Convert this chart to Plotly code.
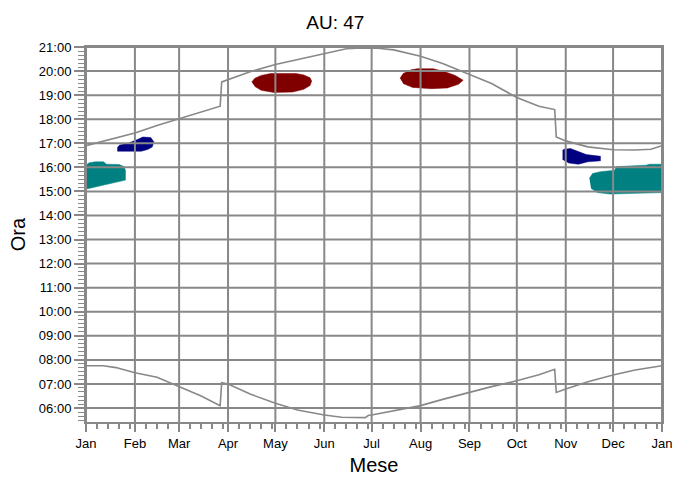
import datetime as dt

import plotly.graph_objects as go

# -----------------------------------------------------
# DATA
# -----------------------------------------------------

MONTH_LABELS = ["Jan", "Feb", "Mar", "Apr", "May", "Jun",
                "Jul", "Aug", "Sep", "Oct", "Nov", "Dec", "Jan"]

MONTH_STARTS = ["2023-01-01", "2023-02-01", "2023-03-01", "2023-04-01",
                "2023-05-01", "2023-06-01", "2023-07-01", "2023-08-01",
                "2023-09-01", "2023-10-01", "2023-11-01", "2023-12-01",
                "2024-01-01"]

MINOR_DAYS = [8, 15, 22, 29]

HOUR_TICKS = list(range(6, 22))
HOUR_LABELS = ["%02d:00" % h for h in HOUR_TICKS]

# sunset (upper curve)
SUNSET_DATES = ["2023-01-01", "2023-01-15", "2023-02-01", "2023-02-15",
                "2023-03-01", "2023-03-15", "2023-03-27", "2023-03-28",
                "2023-04-01", "2023-04-15", "2023-05-01", "2023-05-15",
                "2023-06-01", "2023-06-15", "2023-06-25", "2023-07-05",
                "2023-07-15", "2023-08-01", "2023-08-15", "2023-09-01",
                "2023-09-15", "2023-10-01", "2023-10-15", "2023-10-25",
                "2023-10-26", "2023-11-01", "2023-11-15", "2023-12-01",
                "2023-12-15", "2023-12-25", "2024-01-01"]
SUNSET_HOURS = [16.90, 17.15, 17.43, 17.74,
                18.03, 18.29, 18.54, 19.55,
                19.65, 19.97, 20.27, 20.48,
                20.73, 20.93, 20.96, 20.95,
                20.88, 20.62, 20.31, 19.87,
                19.48, 18.90, 18.54, 18.40,
                17.26, 17.10, 16.85, 16.73,
                16.72, 16.75, 16.90]

# sunrise (lower curve)
SUNRISE_DATES = ["2023-01-01", "2023-01-12", "2023-01-20", "2023-02-01",
                 "2023-02-15", "2023-03-01", "2023-03-15", "2023-03-27",
                 "2023-03-28", "2023-04-01", "2023-04-15", "2023-05-01",
                 "2023-05-15", "2023-06-01", "2023-06-12", "2023-06-27",
                 "2023-06-29", "2023-07-01", "2023-07-15", "2023-08-01",
                 "2023-08-15", "2023-09-01", "2023-09-15", "2023-10-01",
                 "2023-10-15", "2023-10-25", "2023-10-26", "2023-11-01",
                 "2023-11-15", "2023-12-01", "2023-12-15", "2024-01-01"]
SUNRISE_HOURS = [7.76, 7.76, 7.68, 7.47,
                 7.28, 6.89, 6.50, 6.10,
                 7.05, 7.00, 6.58, 6.20,
                 5.92, 5.71, 5.62, 5.60,
                 5.70, 5.71, 5.89, 6.10,
                 6.36, 6.65, 6.89, 7.13,
                 7.38, 7.61, 6.65, 6.79,
                 7.09, 7.37, 7.58, 7.76]

# glare patches (outlines)
TEAL_JAN_DATES = ["2023-01-01", "2023-01-03", "2023-01-07", "2023-01-12",
                  "2023-01-14", "2023-01-22", "2023-01-25", "2023-01-26",
                  "2023-01-26", "2023-01-19", "2023-01-10", "2023-01-02",
                  "2023-01-01"]
TEAL_JAN_HOURS = [16.09, 16.19, 16.23, 16.23,
                  16.13, 16.12, 16.03, 15.88,
                  15.47, 15.36, 15.24, 15.11,
                  15.13]

NAVY_FEB_DATES = ["2023-01-21", "2023-01-21", "2023-02-05", "2023-02-09",
                  "2023-02-12", "2023-02-13", "2023-02-11", "2023-02-06",
                  "2023-02-03", "2023-01-31", "2023-01-28", "2023-01-22"]
NAVY_FEB_HOURS = [16.85, 16.67, 16.67, 16.74,
                  16.85, 17.06, 17.24, 17.26,
                  17.17, 17.10, 17.01, 16.92]

RED_MAY_DATES = ["2023-04-16", "2023-04-18", "2023-04-22", "2023-04-28",
                 "2023-05-14", "2023-05-19", "2023-05-23", "2023-05-24",
                 "2023-05-23", "2023-05-19", "2023-05-12", "2023-04-30",
                 "2023-04-22", "2023-04-18"]
RED_MAY_HOURS = [19.55, 19.70, 19.82, 19.90,
                 19.90, 19.84, 19.72, 19.59,
                 19.40, 19.24, 19.13, 19.11,
                 19.20, 19.36]

RED_AUG_DATES = ["2023-07-19", "2023-07-21", "2023-07-26", "2023-07-30",
                 "2023-08-09", "2023-08-16", "2023-08-23", "2023-08-28",
                 "2023-08-25", "2023-08-18", "2023-08-08", "2023-07-27",
                 "2023-07-21"]
RED_AUG_HOURS = [19.70, 19.90, 20.05, 20.10,
                 20.10, 19.98, 19.82, 19.62,
                 19.45, 19.30, 19.27, 19.32,
                 19.48]

NAVY_NOV_DATES = ["2023-10-30", "2023-10-31", "2023-11-04", "2023-11-10",
                  "2023-11-14", "2023-11-23", "2023-11-23", "2023-11-15",
                  "2023-11-09", "2023-11-03", "2023-10-30"]
NAVY_NOV_HOURS = [16.71, 16.75, 16.78, 16.64,
                  16.53, 16.46, 16.27, 16.23,
                  16.13, 16.18, 16.33]

TEAL_DEC_DATES = ["2023-11-16", "2023-11-18", "2023-11-23", "2023-12-02",
                  "2023-12-03", "2023-12-22", "2023-12-24", "2024-01-01",
                  "2024-01-01", "2023-12-12", "2023-11-29", "2023-11-21",
                  "2023-11-17"]
TEAL_DEC_HOURS = [15.55, 15.74, 15.82, 15.88,
                  16.03, 16.09, 16.13, 16.13,
                  14.95, 14.93, 14.89, 14.95,
                  15.13]

# -----------------------------------------------------
# STYLE
# -----------------------------------------------------

GRID = "#888888"
FONT = "Liberation Sans, Arial, sans-serif"

TEAL = "#008080"
NAVY = "#000080"
MAROON = "#800000"

# -----------------------------------------------------
# FIGURE
# -----------------------------------------------------

fig = go.Figure()

patches = [
    (TEAL_JAN_DATES, TEAL_JAN_HOURS, TEAL),
    (NAVY_FEB_DATES, NAVY_FEB_HOURS, NAVY),
    (RED_MAY_DATES, RED_MAY_HOURS, MAROON),
    (RED_AUG_DATES, RED_AUG_HOURS, MAROON),
    (NAVY_NOV_DATES, NAVY_NOV_HOURS, NAVY),
    (TEAL_DEC_DATES, TEAL_DEC_HOURS, TEAL),
]

for xs, ys, col in patches:

    fig.add_trace(
        go.Scatter(
            x=xs,
            y=ys,
            mode="lines",
            fill="toself",
            fillcolor=col,
            line=dict(color=col, width=0.5),
            hoverinfo="skip",
            showlegend=False
        )
    )

for xs, ys in [(SUNSET_DATES, SUNSET_HOURS), (SUNRISE_DATES, SUNRISE_HOURS)]:

    fig.add_trace(
        go.Scatter(
            x=xs,
            y=ys,
            mode="lines",
            line=dict(color=GRID, width=1.6),
            hoverinfo="skip",
            showlegend=False
        )
    )

# grid drawn over the patches
for m in MONTH_STARTS:

    fig.add_shape(
        type="line",
        xref="x", yref="paper",
        x0=m, x1=m, y0=0, y1=1,
        line=dict(color=GRID, width=2),
        layer="above"
    )

for h in HOUR_TICKS:

    fig.add_shape(
        type="line",
        xref="paper", yref="y",
        x0=0, x1=1, y0=h, y1=h,
        line=dict(color=GRID, width=2),
        layer="above"
    )

minor_dates = []
for month in range(1, 13):
    for day in MINOR_DAYS:
        try:
            minor_dates.append(dt.date(2023, month, day).isoformat())
        except ValueError:
            pass

fig.update_layout(

    width=676,
    height=478,

    margin=dict(l=86, r=14, t=47, b=56),

    paper_bgcolor="white",
    plot_bgcolor="white",

    font=dict(family=FONT, size=13, color="black"),

    title=dict(
        text="AU: 47",
        x=0.496,
        xref="container",
        y=0.954,
        yanchor="middle",
        font=dict(size=19, color="black")
    ),

    xaxis=dict(
        type="date",
        range=["2023-01-01", "2024-01-01"],
        automargin=False,
        tickmode="array",
        tickvals=MONTH_STARTS,
        ticktext=MONTH_LABELS,
        ticklabeloverflow="allow",
        ticks="outside",
        ticklen=8,
        tickwidth=1.5,
        tickcolor=GRID,
        showgrid=False,
        zeroline=False,
        showline=True,
        mirror=True,
        linecolor=GRID,
        linewidth=2,
        minor=dict(
            tickmode="array",
            tickvals=minor_dates,
            ticks="outside",
            ticklen=5,
            tickwidth=1.5,
            tickcolor=GRID,
            showgrid=False
        ),
        title=dict(
            text="Mese",
            standoff=8,
            font=dict(size=20, color="black")
        )
    ),

    yaxis=dict(
        range=[5.42, 21],
        automargin=False,
        tickmode="array",
        tickvals=HOUR_TICKS,
        ticktext=HOUR_LABELS,
        ticks="outside",
        ticklen=10,
        tickwidth=1.5,
        tickcolor=GRID,
        showgrid=False,
        zeroline=False,
        showline=True,
        mirror=True,
        linecolor=GRID,
        linewidth=2,
        minor=dict(
            tick0=0,
            dtick=1 / 6,
            ticks="outside",
            ticklen=6,
            tickwidth=1,
            tickcolor=GRID,
            showgrid=False
        ),
        title=dict(
            text="Ora",
            standoff=8,
            font=dict(size=20, color="black")
        )
    )
)

# drop the default page margin so the figure fills the window exactly
fig.write_html(
    "out.html",
    config={"displayModeBar": False},
    post_script="document.body.style.margin = '0';"
)
